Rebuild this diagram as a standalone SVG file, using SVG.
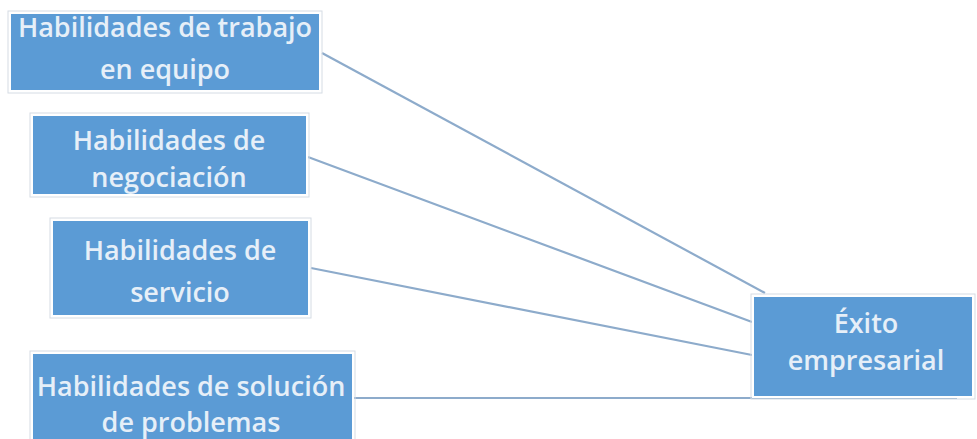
<svg xmlns="http://www.w3.org/2000/svg" width="977" height="439" viewBox="0 0 977 439">
  <style>
    .box { fill: #5b9bd5; stroke: #ffffff; stroke-width: 2; }
    .halo { fill: none; stroke: #d5dce4; stroke-width: 1; }
    .label { font-family: "Open Sans", "Noto Sans", sans-serif; font-size: 27px; font-weight: 600; fill: #e6eff8; text-anchor: middle; }
    .link { stroke: #8dabcb; stroke-width: 2.2; fill: none; }
  </style>
  <rect width="977" height="439" fill="#ffffff"/>

  <!-- connectors -->
  <g id="connectors">
    <line class="link" x1="322" y1="53" x2="765" y2="293"/>
    <line class="link" x1="308" y1="157" x2="752" y2="322"/>
    <line class="link" x1="311" y1="268" x2="752" y2="355"/>
    <line class="link" x1="353" y1="398" x2="957" y2="398"/>
  </g>

  <g id="trabajo-equipo">
    <rect class="halo" x="8" y="11" width="314" height="82"/>
    <rect class="box" x="10" y="13" width="310" height="78"/>
    <text class="label" x="165" y="37">Habilidades de trabajo</text>
    <text class="label" x="165" y="79">en equipo</text>
  </g>

  <g id="negociacion">
    <rect class="halo" x="30" y="113" width="279" height="84"/>
    <rect class="box" x="32" y="115" width="275" height="80"/>
    <text class="label" x="169" y="150">Habilidades de</text>
    <text class="label" x="169" y="187">negociación</text>
  </g>

  <g id="servicio">
    <rect class="halo" x="50" y="218" width="261" height="100"/>
    <rect class="box" x="52" y="220" width="257" height="96"/>
    <text class="label" x="180" y="260">Habilidades de</text>
    <text class="label" x="180" y="302">servicio</text>
  </g>

  <g id="solucion-problemas">
    <rect class="halo" x="30" y="351" width="325" height="92"/>
    <rect class="box" x="32" y="353" width="321" height="90"/>
    <text class="label" x="191" y="396">Habilidades de solución</text>
    <text class="label" x="191" y="432">de problemas</text>
  </g>

  <g id="exito-empresarial">
    <rect class="halo" x="751" y="294" width="224" height="105"/>
    <rect class="box" x="753" y="296" width="220" height="101"/>
    <text class="label" x="866" y="333">Éxito</text>
    <text class="label" x="866" y="370">empresarial</text>
  </g>
</svg>
